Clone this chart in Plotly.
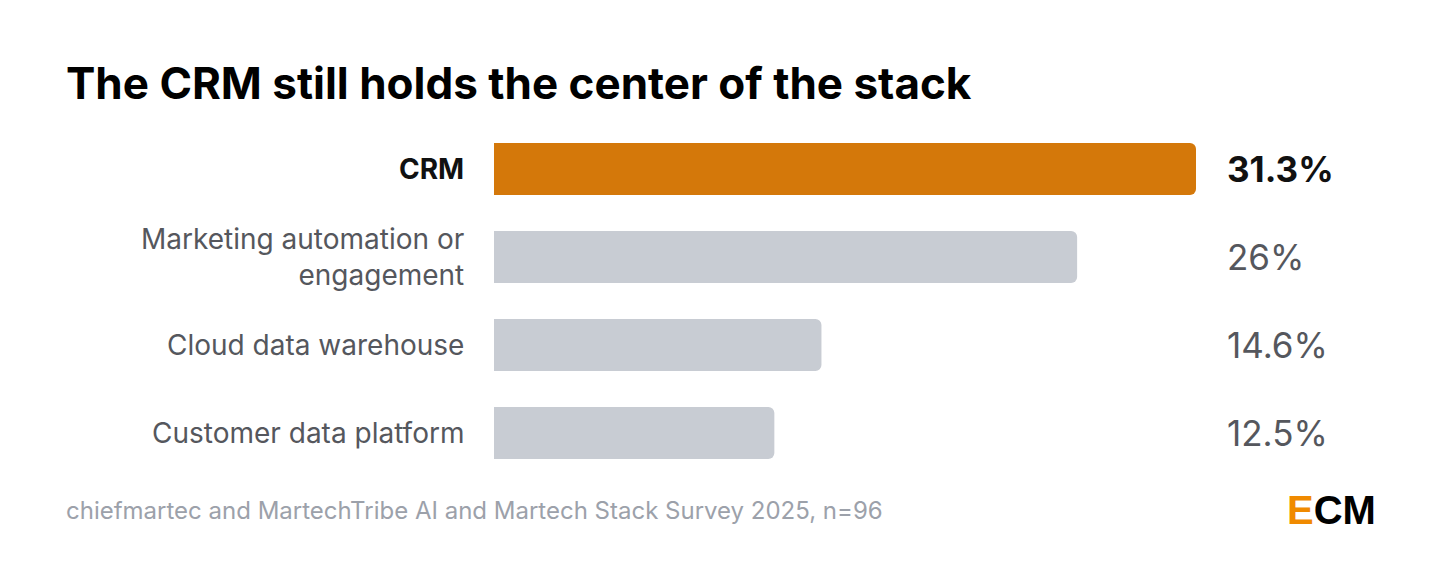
import plotly.graph_objects as go

categories = ["CRM", "Marketing automation or<br>engagement", "Cloud data warehouse", "Customer data platform"]
values = [31.3, 26, 14.6, 12.5]
value_labels = ["31.3%", "26%", "14.6%", "12.5%"]
colors = ["#d4780a", "#c8ccd3", "#c8ccd3", "#c8ccd3"]

# la pàgina té 8px de marge al body: compensem
W, H = 1440, 567
M = 8
FW, FH = W - 2 * M, H - 2 * M
def px(x): return (x - M) / FW
def py(y): return 1 - (y - M) / FH

fig = go.Figure()
fig.add_trace(go.Bar(
    x=values, y=categories, orientation="h",
    marker=dict(color=colors, cornerradius=6, line=dict(width=0)),
    hoverinfo="skip",
))

# etiquetes de categoria i valors
for i, (c, v, t) in enumerate(zip(categories, values, value_labels)):
    first = i == 0
    fig.add_annotation(x=0, y=c, xref="x", yref="y", text=f"<b>{c}</b>" if first else c,
                       xanchor="right", xshift=-28, showarrow=False, align="right",
                       font=dict(size=28, color="#111111" if first else "#55575d"))
    fig.add_annotation(x=px(1225), y=c, xref="paper", yref="y", text=f"<b>{t}</b>" if first else t,
                       xanchor="left", showarrow=False,
                       font=dict(size=35, color="#111111" if first else "#55575d"))

fig.add_annotation(x=px(64), y=py(83), xref="paper", yref="paper", xanchor="left", yanchor="middle",
                   text="<b>The CRM still holds the center of the stack</b>", showarrow=False,
                   font=dict(size=44, color="#000000"))
fig.add_annotation(x=px(64), y=py(510), xref="paper", yref="paper", xanchor="left", yanchor="middle",
                   text="chiefmartec and MartechTribe AI and Martech Stack Survey 2025, n=96",
                   showarrow=False, font=dict(size=24, color="#9ca1aa"))
fig.add_annotation(x=px(1378), y=py(510), xref="paper", yref="paper", xanchor="right", yanchor="middle",
                   text="<b><span style='color:#f08a00'>E</span>CM</b>", showarrow=False,
                   font=dict(size=40, color="#000000", family="Liberation Sans"))

# targeta amb cantonades arrodonides
r = 18
x0, y0, x1, y1 = 1, 1, W - 2, H - 2
path = (f"M {px(x0+r)},{py(y0)} L {px(x1-r)},{py(y0)} Q {px(x1)},{py(y0)} {px(x1)},{py(y0+r)} "
        f"L {px(x1)},{py(y1-r)} Q {px(x1)},{py(y1)} {px(x1-r)},{py(y1)} "
        f"L {px(x0+r)},{py(y1)} Q {px(x0)},{py(y1)} {px(x0)},{py(y1-r)} "
        f"L {px(x0)},{py(y0+r)} Q {px(x0)},{py(y0)} {px(x0+r)},{py(y0)} Z")
fig.add_shape(type="path", path=path, xref="paper", yref="paper", layer="below",
              fillcolor="white", line=dict(color="#e3e4e7", width=1.5))

fig.update_layout(
    width=FW, height=FH, margin=dict(l=0, r=0, t=0, b=0),
    paper_bgcolor="#f4f4f6", plot_bgcolor="rgba(0,0,0,0)",
    font=dict(family="Inter"), showlegend=False, bargap=0.41,
    xaxis=dict(domain=[px(494), px(1196)], range=[0, 31.3], visible=False, fixedrange=True),
    yaxis=dict(domain=[py(477), py(125)], autorange="reversed", visible=False, fixedrange=True),
)
fig.write_html("out.html")
